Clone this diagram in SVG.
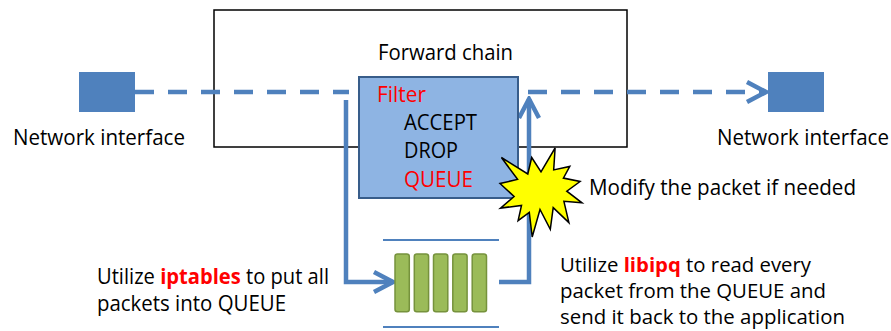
<svg xmlns="http://www.w3.org/2000/svg" width="891" height="331" viewBox="0 0 891 331">
  <style>
    text { font-family: "Open Sans", "Liberation Sans", sans-serif; font-size: 21px; fill: #000000; }
    .note { font-size: 20px; }
    .red { fill: #FF0000; }
    .bold { font-weight: bold; }
    .nic { fill: #4F81BD; }
    .flow { fill: none; stroke: #4F81BD; stroke-width: 4.5; }
    .dash { stroke-dasharray: 19 14; }
    .bar { fill: #9BBB59; stroke: #76923C; stroke-width: 1.5; }
    .rail { stroke: #4F81BD; stroke-width: 2; }
  </style>
  <defs>
    <marker id="chevron" viewBox="0 0 24 24" markerWidth="24" markerHeight="24" refX="21" refY="12" orient="auto" markerUnits="userSpaceOnUse">
      <path d="M2 2 L21 12 L2 22" fill="none" stroke="#4F81BD" stroke-width="4.5" stroke-linejoin="miter"/>
    </marker>
  </defs>

  <!-- forward chain container -->
  <g id="forward-chain">
    <rect x="214" y="10" width="413" height="137" fill="#FFFFFF" stroke="#000000" stroke-width="1.5"/>
    <text x="378" y="60" textLength="135" lengthAdjust="spacingAndGlyphs">Forward chain</text>
  </g>

  <!-- network interfaces -->
  <g id="nic-in">
    <rect class="nic" x="79" y="72" width="56" height="40"/>
    <text x="13" y="145" textLength="172" lengthAdjust="spacingAndGlyphs">Network interface</text>
  </g>
  <g id="nic-out">
    <rect class="nic" x="768" y="72" width="56" height="40"/>
    <text x="717" y="145" textLength="172" lengthAdjust="spacingAndGlyphs">Network interface</text>
  </g>

  <!-- connectors -->
  <g id="connectors">
    <path class="flow dash" d="M135 92 H349"/>
    <path class="flow dash" d="M528 92 H766" marker-end="url(#chevron)"/>
    <path class="flow" d="M346 100 V282 H393" marker-end="url(#chevron)"/>
    <path class="flow" d="M499 282 H529 V99" marker-end="url(#chevron)"/>
  </g>

  <!-- filter table -->
  <g id="filter">
    <rect x="359" y="77" width="159" height="121" fill="#8EB4E3" stroke="#385D8A" stroke-width="2"/>
    <text class="red" x="377" y="102" textLength="49" lengthAdjust="spacingAndGlyphs">Filter</text>
    <text x="404" y="130" textLength="73" lengthAdjust="spacingAndGlyphs">ACCEPT</text>
    <text x="404" y="158" textLength="54" lengthAdjust="spacingAndGlyphs">DROP</text>
    <text class="red" x="404" y="187" textLength="69" lengthAdjust="spacingAndGlyphs">QUEUE</text>
  </g>

  <!-- packet queue -->
  <g id="queue">
    <line class="rail" x1="383" y1="240" x2="499" y2="240"/>
    <line class="rail" x1="383" y1="327" x2="499" y2="327"/>
    <rect class="bar" x="395" y="254" width="14.3" height="57.7" rx="2.5"/>
    <rect class="bar" x="414.3" y="254" width="14.3" height="57.7" rx="2.5"/>
    <rect class="bar" x="433.5" y="254" width="14.3" height="57.7" rx="2.5"/>
    <rect class="bar" x="452.8" y="254" width="14.3" height="57.7" rx="2.5"/>
    <rect class="bar" x="472.2" y="254" width="14.3" height="57.7" rx="2.5"/>
  </g>

  <!-- packet modification burst -->
  <g id="modify">
    <polygon points="541,171.9 555.1,148 553.7,169.9 569.8,166.4 563.4,178.1 580.1,181.5 566.8,191.2 582,202.8 563.9,201.3 568.9,222.6 553.2,207.6 550.3,229.3 540,209.5 532.2,237 529.3,212.4 518.1,220.6 521.5,205.4 500.5,208.1 514.1,196.5 500,183.5 517.6,179.4 501.4,157.5 527.8,174 531.7,157.5" fill="#FFFF00" stroke="#000000" stroke-width="1.5" stroke-linejoin="miter"/>
    <text x="589" y="195" textLength="267" lengthAdjust="spacingAndGlyphs">Modify the packet if needed</text>
  </g>

  <!-- captions -->
  <g id="iptables-note">
    <text x="97" y="284" textLength="232" lengthAdjust="spacingAndGlyphs">Utilize <tspan class="red bold">iptables</tspan> to put all</text>
    <text x="97" y="311" textLength="189" lengthAdjust="spacingAndGlyphs">packets into QUEUE</text>
  </g>
  <g id="libipq-note" class="note">
    <text class="note" x="560" y="272" textLength="251" lengthAdjust="spacingAndGlyphs">Utilize <tspan class="red bold">libipq</tspan> to read every</text>
    <text class="note" x="560" y="297.5" textLength="266" lengthAdjust="spacingAndGlyphs">packet from the QUEUE and</text>
    <text class="note" x="560" y="323.5" textLength="285" lengthAdjust="spacingAndGlyphs">send it back to the application</text>
  </g>
</svg>
